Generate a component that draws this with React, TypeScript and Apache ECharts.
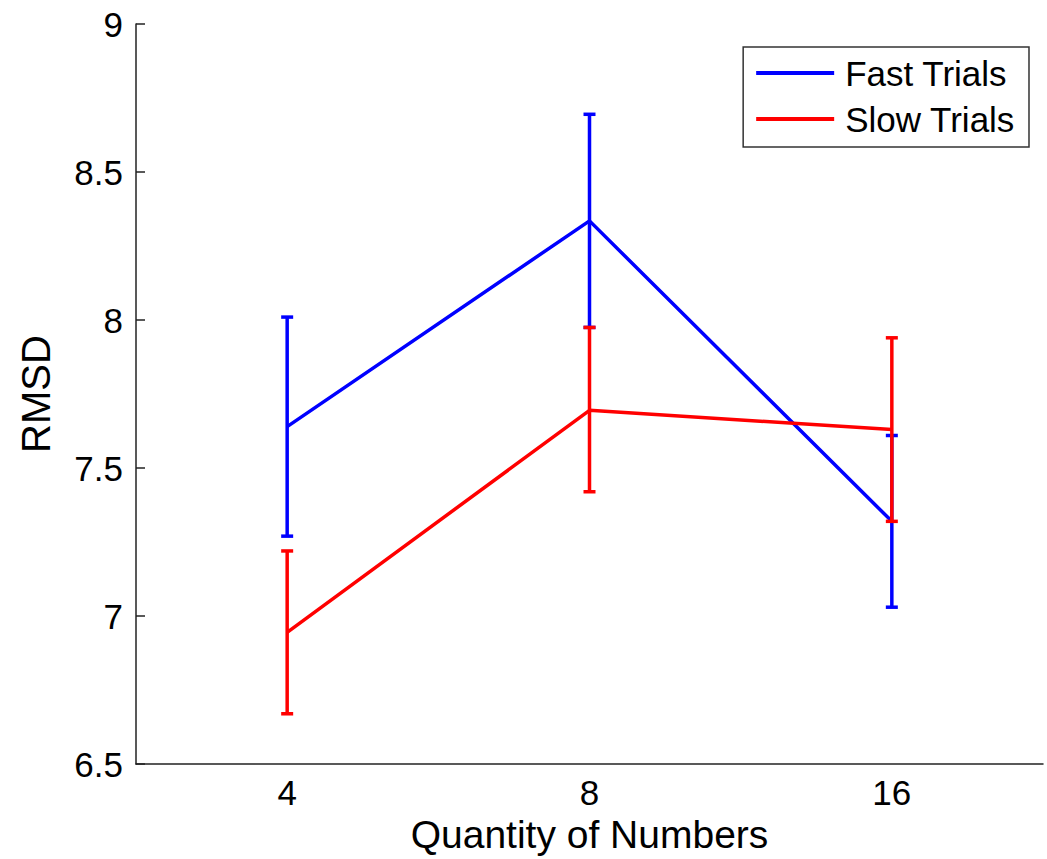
import React, { useEffect, useRef } from "react";
import * as echarts from "echarts";

const categories = ["4", "8", "16"];
const yTicks = [6.5, 7, 7.5, 8, 8.5, 9];
const fastMean = [7.64, 8.335, 7.32];
const fastLow = [7.27, 7.975, 7.03];
const fastHigh = [8.01, 8.695, 7.61];
const slowMean = [6.945, 7.695, 7.63];
const slowLow = [6.67, 7.42, 7.32];
const slowHigh = [7.22, 7.975, 7.94];

const BLUE = "#0000ff";
const RED = "#ff0000";
const FONT = "Liberation Sans, Arial, sans-serif";

function errorSeries(name: string, low: number[], high: number[], color: string) {
  return {
    type: "custom",
    name: name + " err",
    data: low.map((l, i) => [i, l, high[i]]),
    z: 3,
    renderItem: (params: any, api: any) => {
      const x = api.value(0);
      const lo = api.coord([x, api.value(1)]);
      const hi = api.coord([x, api.value(2)]);
      const hw = 6;
      const st = { stroke: color, lineWidth: 3.5 };
      return {
        type: "group",
        children: [
          { type: "line", shape: { x1: lo[0], y1: lo[1], x2: hi[0], y2: hi[1] }, style: st },
          { type: "line", shape: { x1: lo[0] - hw, y1: lo[1], x2: lo[0] + hw, y2: lo[1] }, style: st },
          { type: "line", shape: { x1: hi[0] - hw, y1: hi[1], x2: hi[0] + hw, y2: hi[1] }, style: st },
        ],
      };
    },
  };
}

export default function App() {
  const ref = useRef<HTMLDivElement>(null);
  useEffect(() => {
    const chart = echarts.init(ref.current!, null, { renderer: "svg" });
    chart.setOption({
      animation: false,
      backgroundColor: "#ffffff",
      grid: { left: 136, top: 24, right: 4, bottom: 93 },
      legend: {
        right: 18,
        top: 47,
        orient: "vertical",
        data: [
          { name: "Fast Trials", icon: "rect", itemStyle: { color: BLUE } },
          { name: "Slow Trials", icon: "rect", itemStyle: { color: RED } },
        ],
        itemWidth: 78,
        itemHeight: 4,
        itemGap: 6,
        padding: [6, 14, 8, 13],
        borderColor: "#333",
        borderWidth: 1.5,
        backgroundColor: "#fff",
        textStyle: { fontFamily: FONT, fontSize: 35, color: "#000", lineHeight: 40, padding: [0, 0, 0, 6] },
      },
      xAxis: {
        type: "category",
        data: categories,
        boundaryGap: true,
        name: "Quantity of Numbers",
        nameLocation: "middle",
        nameGap: 35,
        nameTextStyle: { fontFamily: FONT, fontSize: 39, color: "#000", lineHeight: 39 },
        axisLine: { lineStyle: { color: "#222", width: 1.5 } },
        axisTick: { alignWithLabel: true, inside: true, length: 9, lineStyle: { color: "#222", width: 1.5 } },
        axisLabel: { fontFamily: FONT, fontSize: 35, color: "#000", margin: 11 },
        splitLine: { show: false },
      },
      yAxis: {
        type: "value",
        min: 6.5,
        max: 9,
        interval: 0.5,
        name: "RMSD",
        nameLocation: "middle",
        nameGap: 80,
        nameTextStyle: { fontFamily: FONT, fontSize: 40, color: "#000" },
        axisLine: { show: true, lineStyle: { color: "#222", width: 1.5 } },
        axisTick: { show: true, inside: true, length: 9, lineStyle: { color: "#222", width: 1.5 } },
        axisLabel: {
          fontFamily: FONT,
          fontSize: 35,
          color: "#000",
          margin: 13,
          formatter: (v: number) => (yTicks.includes(v) ? String(v) : ""),
        },
        splitLine: { show: false },
      },
      series: [
        {
          type: "line",
          name: "Fast Trials",
          data: fastMean,
          symbol: "none",
          lineStyle: { color: BLUE, width: 3.5 },
          itemStyle: { color: BLUE },
          z: 2,
        },
        errorSeries("Fast Trials", fastLow, fastHigh, BLUE),
        {
          type: "line",
          name: "Slow Trials",
          data: slowMean,
          symbol: "none",
          lineStyle: { color: RED, width: 3.5 },
          itemStyle: { color: RED },
          z: 4,
        },
        { ...errorSeries("Slow Trials", slowLow, slowHigh, RED), z: 5 },
      ],
    });
    return () => chart.dispose();
  }, []);
  return <div ref={ref} style={{ width: 1047, height: 859, position: "absolute", left: 0, top: 0 }} />;
}
